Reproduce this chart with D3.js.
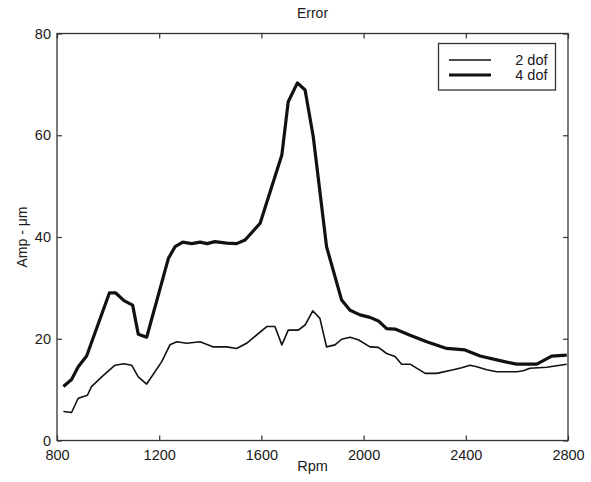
<!DOCTYPE html>
<html><head><meta charset="utf-8">
<script src="https://cdn.jsdelivr.net/npm/d3@7"></script>
<style>body{margin:0;background:#fff}svg{display:block}text{font-family:"Liberation Sans",Arial,sans-serif;fill:#1a1a1a}</style>
</head><body><svg id="c" width="591" height="482"></svg>
<script>
const title = "Error";
const xLabel = "Rpm";
const yLabel = "Amp - μm";
const xTicks = [800, 1200, 1600, 2000, 2400, 2800];
const yTicks = [0, 20, 40, 60, 80];
const seriesNames = ["2 dof", "4 dof"];

const rpm2 = [825,857,883,919,935,975,1027,1062,1092,1118,1151,1210,1242,1269,1308,1360,1412,1464,1503,1542,1621,1653,1680,1705,1744,1771,1801,1829,1855,1888,1914,1947,1979,2025,2058,2090,2123,2149,2182,2241,2286,2351,2384,2416,2443,2482,2521,2599,2625,2651,2717,2743,2795];
const amp2 = [5.7,5.5,8.3,8.9,10.6,12.5,14.8,15.1,14.8,12.5,11.1,15.5,18.8,19.4,19.1,19.4,18.4,18.4,18.1,19.1,22.4,22.4,18.8,21.7,21.7,22.7,25.5,24.0,18.4,18.8,19.9,20.3,19.8,18.4,18.3,17.1,16.5,15.0,15.0,13.2,13.2,13.9,14.3,14.8,14.5,13.9,13.5,13.5,13.7,14.2,14.4,14.6,15.0];

const rpm4 = [825,857,883,916,1005,1030,1062,1096,1118,1151,1236,1262,1292,1327,1360,1388,1418,1464,1503,1536,1595,1680,1705,1741,1771,1803,1855,1914,1947,1986,2025,2058,2090,2123,2182,2247,2325,2397,2456,2534,2599,2678,2736,2795];
const amp4 = [10.6,12.0,14.5,16.6,29.0,29.0,27.5,26.6,20.9,20.3,35.8,38.1,39.0,38.7,39.0,38.7,39.1,38.8,38.7,39.4,42.7,56.1,66.6,70.3,68.9,59.7,38.1,27.6,25.6,24.7,24.2,23.5,22.0,21.9,20.7,19.4,18.1,17.8,16.6,15.7,15.0,15.0,16.6,16.8];

const svg = d3.select("#c");
const L = 57, R = 568, T = 33.5, B = 440.5;
const x = d3.scaleLinear().domain([800, 2800]).range([L, R]);
const y = d3.scaleLinear().domain([0, 80]).range([B, T]);
const axisColor = "#333";

svg.append("rect").attr("x", L).attr("y", T).attr("width", R - L).attr("height", B - T)
  .attr("fill", "none").attr("stroke", axisColor).attr("stroke-width", 1.3);

const tl = 5;
const gb = svg.append("g").attr("transform", `translate(0,${B})`)
  .call(d3.axisBottom(x).tickValues(xTicks).tickSize(-tl).tickPadding(9).tickFormat(d3.format("d")));
const gt = svg.append("g").attr("transform", `translate(0,${T})`)
  .call(d3.axisTop(x).tickValues(xTicks).tickSize(-tl).tickFormat(""));
const gl = svg.append("g").attr("transform", `translate(${L},0)`)
  .call(d3.axisLeft(y).tickValues(yTicks).tickSize(-tl).tickPadding(6));
const gr = svg.append("g").attr("transform", `translate(${R},0)`)
  .call(d3.axisRight(y).tickValues(yTicks).tickSize(-tl).tickFormat(""));
[gb, gt, gl, gr].forEach(g => {
  g.select(".domain").remove();
  g.selectAll("line").attr("stroke", axisColor).attr("stroke-width", 1.2);
  g.selectAll("text").attr("font-size", 14.5).attr("fill", "#1a1a1a")
    .style("font-family", '"Liberation Sans",Arial,sans-serif');
});

svg.append("text").attr("x", (L + R) / 2).attr("y", 18).attr("text-anchor", "middle").attr("font-size", 14).text(title);
svg.append("text").attr("x", (L + R) / 2).attr("y", 470.5).attr("text-anchor", "middle").attr("font-size", 14.5).text(xLabel);
svg.append("text").attr("transform", `translate(27,${(T + B) / 2}) rotate(-90)`).attr("text-anchor", "middle").attr("font-size", 14).text(yLabel);

const line = d3.line().x(d => x(d[0])).y(d => y(d[1]));
const d2 = rpm2.map((r, i) => [r, amp2[i]]);
const d4 = rpm4.map((r, i) => [r, amp4[i]]);
svg.append("path").datum(d2).attr("d", line).attr("fill", "none").attr("stroke", "#111").attr("stroke-width", 1.6).attr("stroke-linejoin", "round");
svg.append("path").datum(d4).attr("d", line).attr("fill", "none").attr("stroke", "#111").attr("stroke-width", 3.2).attr("stroke-linejoin", "round");

const lg = svg.append("g");
lg.append("rect").attr("x", 438.5).attr("y", 43.5).attr("width", 117).attr("height", 46.5)
  .attr("fill", "#fff").attr("stroke", axisColor).attr("stroke-width", 1.3);
const widths = [1.6, 3.2];
seriesNames.forEach((n, i) => {
  const yy = 60 + i * 15;
  lg.append("line").attr("x1", 449).attr("x2", 491).attr("y1", yy).attr("y2", yy)
    .attr("stroke", "#111").attr("stroke-width", widths[i]);
  lg.append("text").attr("x", 547.5).attr("y", yy + 5).attr("text-anchor", "end").attr("font-size", 14.5).text(n);
});
</script></body></html>
